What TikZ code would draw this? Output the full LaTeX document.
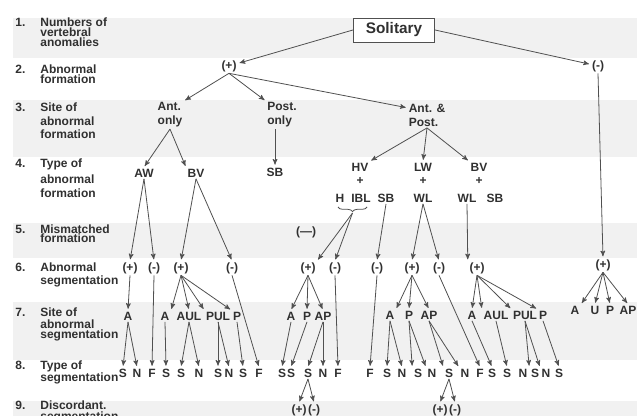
\documentclass[tikz,border=0pt]{standalone}
\usepackage{fontspec}
\setmainfont{Liberation Sans}
\usetikzlibrary{arrows,decorations.pathreplacing}
\definecolor{ink}{HTML}{303030}
\definecolor{wire}{HTML}{505050}
\definecolor{band}{HTML}{F1F1F1}

\begin{document}
\begin{tikzpicture}[x=0.75pt,y=-0.75pt,->,>=stealth',shorten >=1pt,semithick,color=wire,
    tn/.style={text=ink,font=\bfseries\fontsize{9}{10.5}\selectfont,inner sep=1pt,align=left},
    lbl/.style={text=ink,font=\bfseries\fontsize{9}{9}\selectfont,inner sep=0pt,anchor=base west},
    box/.style={draw=wire,fill=white,text=ink,font=\bfseries\fontsize{11.5}{12}\selectfont,
                minimum width=61pt,minimum height=18pt}]
      \useasboundingbox (0,0) rectangle (642,416);

      % shaded rows
      \fill[band] (13,18)  rectangle (637,58);
      \fill[band] (13,100) rectangle (637,157);
      \fill[band] (13,223) rectangle (637,258);
      \fill[band] (13,302) rectangle (637,360);
      \fill[band] (13,401) rectangle (637,420);

      % row titles
      \node[lbl] (n1) at (15,27)   {1.};
      \node[lbl] (l1a) at (40,27)  {Numbers of};
      \node[lbl] (l1b) at (40,37)  {vertebral};
      \node[lbl] (l1c) at (40,47)  {anomalies};
      \node[lbl] (n2) at (15,74)   {2.};
      \node[lbl] (l2a) at (40,74)  {Abnormal};
      \node[lbl] (l2b) at (40,84)  {formation};
      \node[lbl] (n3) at (15,112)  {3.};
      \node[lbl] (l3a) at (40,112) {Site of};
      \node[lbl] (l3b) at (40,126) {abnormal};
      \node[lbl] (l3c) at (40,139) {formation};
      \node[lbl] (n4) at (15,168)  {4.};
      \node[lbl] (l4a) at (40,168) {Type of};
      \node[lbl] (l4b) at (40,184) {abnormal};
      \node[lbl] (l4c) at (40,198) {formation};
      \node[lbl] (n5) at (15,234)  {5.};
      \node[lbl] (l5a) at (40,234) {Mismatched};
      \node[lbl] (l5b) at (40,243) {formation};
      \node[lbl] (n6) at (15,272)  {6.};
      \node[lbl] (l6a) at (40,272) {Abnormal};
      \node[lbl] (l6b) at (40,285) {segmentation};
      \node[lbl] (n7) at (15,317)  {7.};
      \node[lbl] (l7a) at (40,317) {Site of};
      \node[lbl] (l7b) at (40,329) {abnormal};
      \node[lbl] (l7c) at (40,339) {segmentation};
      \node[lbl] (n8) at (15,369)  {8.};
      \node[lbl] (l8a) at (40,369) {Type of};
      \node[lbl] (l8b) at (40,381) {segmentation};
      \node[lbl] (n9) at (15,409)  {9.};
      \node[lbl] (l9a) at (40,409) {Discordant.};
      \node[lbl] (l9b) at (40,420) {segmentation};

      % 1-3
      \node[box] (sol)      at (394,30)  {Solitary};
      \node[tn]  (fp)       at (229,66)  {(+)};
      \node[tn]  (fm)       at (598,66)  {(-)};
      \node[tn]  (antonly)  at (170,115) {Ant.\\only};
      \node[tn]  (postonly) at (282,115) {Post.\\only};
      \node[tn]  (antpost)  at (427,115) {Ant. \&\\Post.};

      % 4
      \node[tn] (aw)     at (144,173) {AW};
      \node[tn] (bv)     at (196,173) {BV};
      \node[tn] (sb)     at (275,172) {SB};
      \node[tn] (hv)     at (360,167) {HV};
      \node[tn] (hvplus) at (360,181) {+};
      \node[tn] (h)      at (340,198) {H};
      \node[tn] (ibl)    at (361,198) {IBL};
      \node[tn] (sba)    at (386,198) {SB};
      \node[tn] (lw)     at (423,167) {LW};
      \node[tn] (lwplus) at (423,181) {+};
      \node[tn] (wl)     at (423,198) {WL};
      \node[tn] (bvb)    at (479,167) {BV};
      \node[tn] (bvplus) at (479,181) {+};
      \node[tn] (wlb)    at (467,198) {WL};
      \node[tn] (sbb)    at (495,198) {SB};
      \coordinate (brl)  at (338,207);
      \coordinate (brr)  at (367,207);
      \coordinate (brtip) at (352.5,213);
      \draw[-,shorten >=0pt,decorate,decoration={brace,mirror,amplitude=3.5pt}] (brl) -- (brr);

      % 5-6
      \node[tn] (mism) at (306,232) {(—)};
      \node[tn] (awP)  at (130,268) {(+)};
      \node[tn] (awM)  at (154,268) {(-)};
      \node[tn] (bvP)  at (181,268) {(+)};
      \node[tn] (bvM)  at (232,268) {(-)};
      \node[tn] (hvP)  at (308,268) {(+)};
      \node[tn] (hvM)  at (335,268) {(-)};
      \node[tn] (sbM)  at (377,268) {(-)};
      \node[tn] (lwP)  at (412,268) {(+)};
      \node[tn] (lwM)  at (439,268) {(-)};
      \node[tn] (bbP)  at (477,268) {(+)};
      \node[tn] (fmP)  at (603,265) {(+)};

      % 7
      \node[tn] (awA)   at (128,316) {A};
      \node[tn] (bvA)   at (165,316) {A};
      \node[tn] (bvAUL) at (189,316) {AUL};
      \node[tn] (bvPUL) at (218,316) {PUL};
      \node[tn] (bvPp)  at (237,316) {P};
      \node[tn] (hvA)   at (291,316) {A};
      \node[tn] (hvPp)  at (307,316) {P};
      \node[tn] (hvAP)  at (323,316) {AP};
      \node[tn] (lwA)   at (390,315) {A};
      \node[tn] (lwPp)  at (409,315) {P};
      \node[tn] (lwAP)  at (429,315) {AP};
      \node[tn] (bbA)   at (472,315) {A};
      \node[tn] (bbAUL) at (496,315) {AUL};
      \node[tn] (bbPUL) at (525,315) {PUL};
      \node[tn] (bbPp)  at (543,315) {P};
      \node[tn] (fmA)   at (575,310) {A};
      \node[tn] (fmU)   at (595,310) {U};
      \node[tn] (fmPp)  at (610,310) {P};
      \node[tn] (fmAP)  at (628,310) {AP};

      % 8
      \node[tn] (t1)  at (123,373) {S};
      \node[tn] (t2)  at (137,373) {N};
      \node[tn] (t3)  at (152,373) {F};
      \node[tn] (t4)  at (166,373) {S};
      \node[tn] (t5)  at (181,373) {S};
      \node[tn] (t6)  at (199,373) {N};
      \node[tn] (t7)  at (218,373) {S};
      \node[tn] (t8)  at (229,373) {N};
      \node[tn] (t9)  at (243,373) {S};
      \node[tn] (t10) at (259,373) {F};
      \node[tn] (t11) at (282,373) {S};
      \node[tn] (t12) at (291,373) {S};
      \node[tn] (t13) at (308,373) {S};
      \node[tn] (t14) at (323,373) {N};
      \node[tn] (t15) at (338,373) {F};
      \node[tn] (t16) at (370,373) {F};
      \node[tn] (t17) at (387,373) {S};
      \node[tn] (t18) at (402,373) {N};
      \node[tn] (t19) at (418,373) {S};
      \node[tn] (t20) at (432,373) {N};
      \node[tn] (t21) at (449,373) {S};
      \node[tn] (t22) at (465,373) {N};
      \node[tn] (t23) at (480,373) {F};
      \node[tn] (t24) at (492,373) {S};
      \node[tn] (t25) at (507,373) {S};
      \node[tn] (t26) at (523,373) {N};
      \node[tn] (t27) at (535,373) {S};
      \node[tn] (t28) at (546,373) {N};
      \node[tn] (t29) at (559,373) {S};

      % 9
      \node[tn] (dp1) at (299,410) {(+)};
      \node[tn] (dm1) at (314,410) {(-)};
      \node[tn] (dp2) at (440,410) {(+)};
      \node[tn] (dm2) at (455,410) {(-)};

      \path (sol.west) edge (fp)
            (sol.east) edge (fm)
            (fp.south) edge (antonly.north east)
                       edge (postonly.north west)
                       edge (antpost.160)
            (antonly.south) edge (aw.north)
                            edge (bv.north west)
            (sb |- postonly.south) edge (sb.north)
            (antpost.south) edge (hv.north east)
                            edge (lw.north)
                            edge (bvb.north west);

      \path (aw.south)  edge (awP.north)
                        edge (awM.north)
            (bv.south)  edge (bvP.north)
                        edge (bvM.north)
            (brtip)     edge (hvP.north east)
                        edge (hvM.north)
            (sba.south) edge (sbM.north)
            (wl.south)  edge (lwP.north)
                        edge (lwM.north)
            (wlb.south) edge (bbP.north west)
            (fm.south)  edge (fmP.north);

      \path (awP.south) edge (awA.north)
            (bvP.south) edge (bvA.north east)
                        edge (bvAUL.north)
                        edge (bvPUL.north west)
                        edge (bvPp.north west)
            (hvP.south) edge (hvA.north)
                        edge (hvPp.north)
                        edge (hvAP.north)
            (lwP.south) edge (lwA.north east)
                        edge (lwPp.north)
                        edge (lwAP.north)
            (bbP.south) edge (bbA.north)
                        edge (bbAUL.north west)
                        edge (bbPUL.north west)
                        edge (bbPp.north west)
            (fmP.south) edge (fmA.north east)
                        edge (fmU.north)
                        edge (fmPp.north)
                        edge (fmAP.north);

      \path (awA.south)   edge (t1.north)
                          edge (t2.north)
            (awM.south)   edge (t3.north)
            (bvA.south)   edge (t4.north)
            (bvAUL.south) edge (t5.north)
                          edge (t6.north)
            (bvPUL.south) edge (t7.north)
                          edge (t8.north)
            (bvPp.south)  edge (t9.north)
            (bvM.south)   edge (t10.north)
            (hvA.south)   edge (t11.north)
            (hvPp.south)  edge (t12.north)
            (hvAP.south)  edge (t13.north)
                          edge (t14.north)
            (hvM.south)   edge (t15.north)
            (sbM.south)   edge (t16.north)
            (lwA.south)   edge (t17.north)
                          edge (t18.north)
            (lwPp.south)  edge (t19.north west)
                          edge (t20.north west)
            (lwAP.south)  edge (t21.north west)
                          edge (t22.north west)
            (lwM.south)   edge (t23.north)
            (bbA.south)   edge (t24.north)
            (bbAUL.south) edge (t25.north)
            (bbPUL.south) edge (t27.north west)
                          edge (t28.north west)
            (bbPp.south)  edge (t29.north);

      \path (t13.south) edge (dp1.north)
                        edge (dm1.north)
            (t21.south) edge (dp2.north)
                        edge (dm2.north);
    \end{tikzpicture}
\end{document}
